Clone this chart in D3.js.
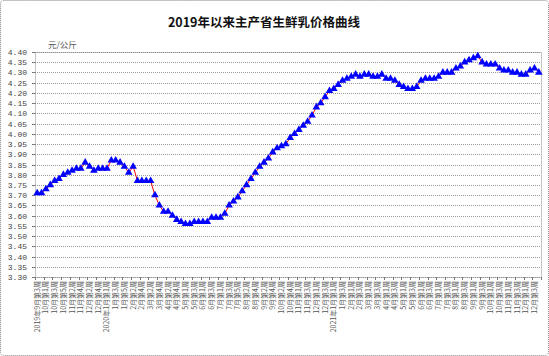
<!DOCTYPE html>
<html>
<head>
<meta charset="utf-8">
<script src="https://cdn.jsdelivr.net/npm/d3@7"></script>
<style>
  body { margin: 0; background: #fff; }
  svg { display: block; }
  .grid line { stroke: #9a9a9a; stroke-dasharray: 1,1; }
  .tick-y { font-family: "Liberation Mono", monospace; font-size: 8px; fill: #444; }
  .tick-x { font-family: "Noto Sans CJK SC", sans-serif; font-size: 7px; fill: #555; }
</style>
</head>
<body>
<svg width="549" height="356"></svg>
<script>
// 数据：每周价格（元/公斤）
const monthSpans = [
  "2019-9:3-4", "2019-10:1-5", "2019-11:1-4", "2019-12:1-5",
  "2020-1:1-5", "2020-2:1-4", "2020-3:1-4", "2020-4:1-5", "2020-5:1-4", "2020-6:1-4",
  "2020-7:1-5", "2020-8:1-4", "2020-9:1-4", "2020-10:1-5", "2020-11:1-4", "2020-12:1-4",
  "2021-1:1-4", "2021-2:1-4", "2021-3:1-4", "2021-4:1-4", "2021-5:1-4", "2021-6:1-4",
  "2021-7:1-4", "2021-8:1-4", "2021-9:1-4", "2021-10:1-4", "2021-11:1-4", "2021-12:1-4"
];
const prices = [
  3.71, 3.71, 3.73, 3.75, 3.77, 3.78, 3.80, 3.81, 3.82, 3.83, 3.83, 3.86, 3.84, 3.82, 3.83, 3.83,
  3.83, 3.87, 3.87, 3.86, 3.84, 3.81, 3.84, 3.77, 3.77, 3.77, 3.77, 3.70, 3.65, 3.62, 3.62, 3.60,
  3.58, 3.57, 3.56, 3.56, 3.57, 3.57, 3.57, 3.57, 3.59, 3.59, 3.59, 3.61, 3.65, 3.67, 3.69, 3.72,
  3.75, 3.78, 3.81, 3.84, 3.86, 3.88, 3.91, 3.93, 3.94, 3.95, 3.98, 4.00, 4.02, 4.04, 4.06, 4.09,
  4.13, 4.15, 4.18, 4.21, 4.22, 4.24, 4.26, 4.27, 4.28, 4.29, 4.28, 4.29, 4.29, 4.28, 4.28, 4.29,
  4.27, 4.27, 4.26, 4.24, 4.23, 4.22, 4.22, 4.23, 4.26, 4.27, 4.27, 4.27, 4.28, 4.30, 4.30, 4.30,
  4.32, 4.33, 4.35, 4.36, 4.37, 4.38, 4.35, 4.34, 4.34, 4.34, 4.32, 4.31, 4.31, 4.30, 4.30, 4.29,
  4.29, 4.31, 4.32, 4.30
];
const yTicks = [3.30, 3.35, 3.40, 3.45, 3.50, 3.55, 3.60, 3.65, 3.70, 3.75, 3.80, 3.85, 3.90,
  3.95, 4.00, 4.05, 4.10, 4.15, 4.20, 4.25, 4.30, 4.35, 4.40];
const title = "2019年以来主产省生鲜乳价格曲线";
const unit = "元/公斤";

// 周标签
const weeks = [];
let lastYear = null;
monthSpans.forEach(s => {
  const [ym, w] = s.split(":");
  const [yr, mo] = ym.split("-");
  const [w0, w1] = w.split("-").map(Number);
  for (let k = w0; k <= w1; k++) {
    const pre = yr !== lastYear ? yr + "年" : "";
    weeks.push(pre + mo + "月第" + k + "周");
    lastYear = yr;
  }
});

const svg = d3.select("svg");
const plot = { left: 35, right: 541, top: 52, bottom: 277 };

// 外框
svg.append("rect")
  .attr("x", 0.5).attr("y", 0.5).attr("width", 548).attr("height", 355)
  .attr("rx", 3)
  .attr("fill", "#fff").attr("stroke", "#8a8a8a").attr("stroke-dasharray", "1,1");

const x = d3.scalePoint()
  .domain(d3.range(prices.length))
  .range([plot.left, plot.right])
  .padding(0.5);
const y = d3.scaleLinear().domain([3.30, 4.40]).range([plot.bottom, plot.top]);

// 网格线
svg.append("g").attr("class", "grid")
  .selectAll("line").data(yTicks).enter().append("line")
  .attr("x1", plot.left).attr("x2", plot.right)
  .attr("y1", d => Math.round(y(d)) + 0.5).attr("y2", d => Math.round(y(d)) + 0.5);

// 绘图区边框
svg.append("rect")
  .attr("x", plot.left + 0.5).attr("y", plot.top + 0.5)
  .attr("width", plot.right - plot.left).attr("height", plot.bottom - plot.top)
  .attr("fill", "none").attr("stroke", "#8a8a8a").attr("stroke-dasharray", "1,1");

// y轴
const yAxis = svg.append("g");
yAxis.selectAll("line").data(yTicks).enter().append("line")
  .attr("x1", plot.left - 3).attr("x2", plot.left)
  .attr("y1", d => Math.round(y(d)) + 0.5).attr("y2", d => Math.round(y(d)) + 0.5)
  .attr("stroke", "#777");
yAxis.selectAll("text").data(yTicks).enter().append("text")
  .attr("class", "tick-y")
  .attr("x", 27).attr("y", d => y(d) + 3)
  .attr("text-anchor", "end")
  .text(d3.format(".2f"));

svg.append("text")
  .attr("x", 48).attr("y", 48)
  .attr("font-family", "Noto Sans CJK SC").attr("font-size", 8.5).attr("fill", "#555")
  .text(unit);

// x轴
const step = x.step();
const xAxis = svg.append("g");
xAxis.selectAll("line").data(d3.range(0, prices.length + 1, 2)).enter().append("line")
  .attr("x1", d => Math.round(plot.left + d * step) + 0.5)
  .attr("x2", d => Math.round(plot.left + d * step) + 0.5)
  .attr("y1", plot.bottom).attr("y2", plot.bottom + 3)
  .attr("stroke", "#777");
xAxis.selectAll("text").data(weeks.filter((d, i) => i % 2 === 0)).enter().append("text")
  .attr("class", "tick-x")
  .attr("text-anchor", "end")
  .attr("transform", (d, i) => `translate(${x(i * 2) + 2.5},${plot.bottom + 4}) rotate(-90)`)
  .text(d => d);

// 标题
svg.append("text")
  .attr("x", 264).attr("y", 27)
  .attr("text-anchor", "middle")
  .attr("font-family", "Noto Sans CJK SC").attr("font-weight", "bold").attr("font-size", 12.5)
  .attr("fill", "#111")
  .text(title);

// 折线
const line = d3.line().x((d, i) => x(i)).y(d => y(d));
svg.append("path")
  .datum(prices)
  .attr("d", line)
  .attr("fill", "none").attr("stroke", "#ff0000").attr("stroke-width", 1);

// 三角形标记
const tri = d3.symbol().type(d3.symbolTriangle).size(25);
svg.append("g").selectAll("path").data(prices).enter().append("path")
  .attr("d", tri)
  .attr("transform", (d, i) => `translate(${x(i)},${y(d)})`)
  .attr("fill", "#0000ff");
</script>
</body>
</html>
